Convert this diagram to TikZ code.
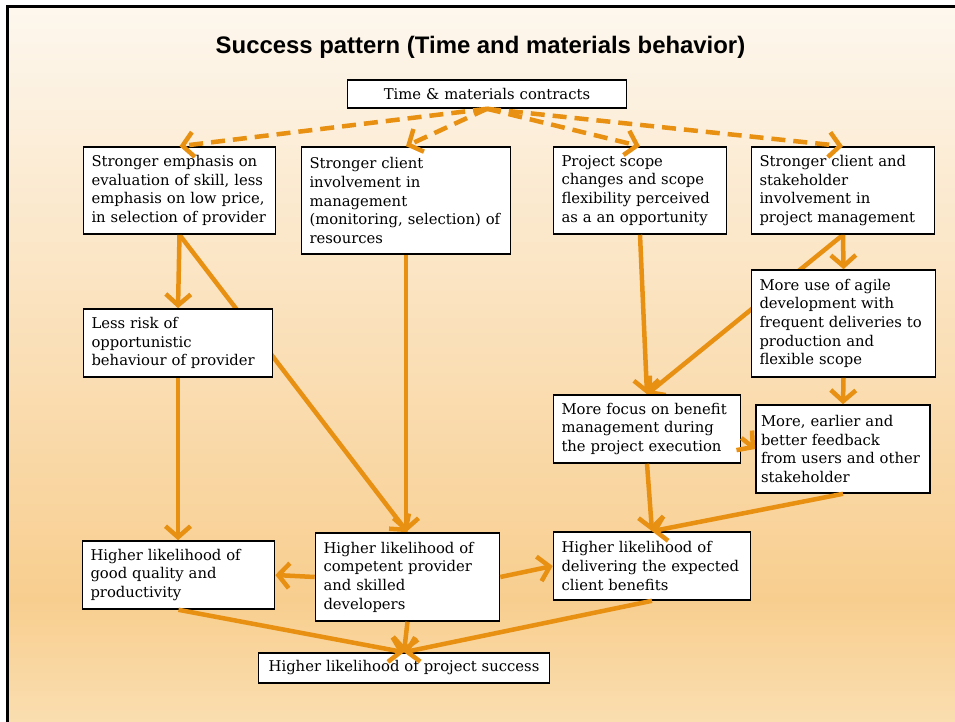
\documentclass[tikz,border=0pt]{standalone}
\usepackage{fontspec}
\setmainfont{DejaVu Serif}
\newfontfamily\titlefont{Liberation Sans}
\usetikzlibrary{arrows.meta}

\definecolor{flow}{RGB}{232,144,18}
\definecolor{bgtop}{RGB}{253,247,238}
\definecolor{bgmid}{RGB}{248,206,143}
\definecolor{bgbot}{RGB}{250,222,176}

\pgfdeclarelayer{paper}
\pgfdeclarelayer{under}
\pgfsetlayers{paper,under,main}

\tikzset{
    pbox/.style={draw, line width=1.6pt, fill=white, align=left, inner xsep=8pt, inner ysep=3pt,
        font=\fontsize{14.8}{18.7}\selectfont},
    link/.style={draw=flow, line width=4.5pt, -{Straight Barb[length=11pt,width=25pt]}},
    dlink/.style={link, dash pattern=on 14pt off 8pt},
}

\begin{document}
\begin{tikzpicture}[x=1pt,y=-1pt]

    \useasboundingbox (0,0) rectangle (955,722);
    \begin{pgfonlayer}{paper}
        \shade[top color=bgtop, bottom color=bgmid] (7,7) rectangle (955,600);
        \shade[top color=bgmid, bottom color=bgbot] (7,600) rectangle (955,722);
        \draw[line width=3pt] (7,722) -- (7,7) -- (955,7);
    \end{pgfonlayer}

    \node[font=\titlefont\bfseries\fontsize{23.9}{28}\selectfont] (title) at (480.5,47) {Success pattern (Time and materials behavior)};

    \node[pbox, align=center, text width=263, minimum height=28] (tm) at (487,94) {Time \& materials contracts};

    \node[pbox, text width=176, minimum height=87] (skill) at (179.5,190.5) {Stronger emphasis on\\evaluation of skill, less\\emphasis on low price,\\in selection of provider};
    \node[pbox, text width=193, minimum height=107] (resource) at (406,200.5) {Stronger client\\involvement in\\management\\(monitoring, selection) of\\resources};
    \node[pbox, text width=157, minimum height=87] (scope) at (640,190.5) {Project scope\\changes and scope\\flexibility perceived\\as a an opportunity};
    \node[pbox, text width=167, minimum height=87] (stake) at (843,190.5) {Stronger client and\\stakeholder\\involvement in\\project management};

    \node[pbox, text width=173, minimum height=68] (risk) at (178,343) {Less risk of\\opportunistic\\behaviour of provider};
    \node[pbox, text width=168, minimum height=107] (agile) at (843.5,323.5) {More use of agile\\development with\\frequent deliveries to\\production and\\flexible scope};
    \node[pbox, text width=171, minimum height=68] (focus) at (647,429) {More focus on benefit\\management during\\the project execution};
    \node[pbox, inner xsep=5pt, text width=164, minimum height=88] (feedback) at (843,449) {More, earlier and\\better feedback\\from users and other\\stakeholder};

    \node[pbox, text width=176, minimum height=68] (quality) at (178.5,575) {Higher likelihood of\\good quality and\\productivity};
    \node[pbox, text width=168, minimum height=88] (competent) at (407.5,577) {Higher likelihood of\\competent provider\\and skilled\\developers};
    \node[pbox, text width=181, minimum height=68] (benefit) at (652,566) {Higher likelihood of\\delivering the expected\\client benefits};
    \node[pbox, align=center, text width=275, minimum height=30] (success) at (404,668) {Higher likelihood of project success};

    \draw[dlink] (tm.south) -- (skill.north);
    \draw[dlink] (tm.south) -- (resource.north);
    \draw[dlink] (tm.south) -- (scope.north);
    \draw[dlink] (tm.south) -- (stake.north);

    \begin{pgfonlayer}{under}
        \draw[link] (skill.south) -- (competent.north);
        \draw[link] (stake.south) -- (focus.north);
    \end{pgfonlayer}

    \draw[link] (skill.south) -- (risk.north);
    \draw[link] (resource.south) -- (resource.south |- competent.north);
    \draw[link] (risk.south) -- (risk.south |- quality.north);
    \draw[link] (scope.south) -- (focus.north);
    \draw[link] (stake.south) -- (agile.north);
    \draw[link] (agile.south) -- (feedback.north);
    \draw[link] ([yshift=-9pt]focus.east) -- (feedback.west);
    \draw[link] (focus.south) -- (benefit.north);
    \draw[link] (feedback.south) -- (benefit.north);
    \draw[link] (competent.west) -- (quality.east);
    \draw[link] (competent.east) -- (benefit.west);
    \draw[link] (quality.south) -- (success.north);
    \draw[link] (competent.south) -- (success.north);
    \draw[link] (benefit.south) -- (success.north);

\end{tikzpicture}
\end{document}
